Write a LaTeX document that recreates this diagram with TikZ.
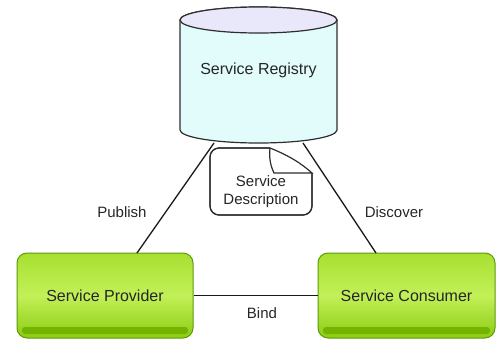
\documentclass[tikz,border=0pt]{standalone}
\usepackage{fontspec}
\setmainfont{Liberation Sans}
\usetikzlibrary{calc}
\definecolor{cylbody}{HTML}{E2FBFB}
\definecolor{cyltop}{HTML}{E8E8FA}
\definecolor{outl}{HTML}{2E2E2E}
\definecolor{gtop}{HTML}{A8E030}
\definecolor{gmid}{HTML}{C2F058}
\definecolor{gbot}{HTML}{8CCC12}
\definecolor{gborder}{HTML}{5E9A0A}
\definecolor{gband}{HTML}{74B400}
\tikzset{
  boxtext/.style={font=\fontsize{16}{19}\selectfont, text=black!85},
  lbl/.style={font=\fontsize{15}{18}\selectfont, text=black!85},
  gbox/.style={rounded corners=10pt, draw=gborder, line width=1pt,
    top color=gtop, bottom color=gbot, middle color=gmid,
    minimum height=85pt, inner sep=0pt},
  conn/.style={line width=1.3pt, draw=black!90},
  outline/.style={line width=1.2pt, draw=outl}
}
\begin{document}
\begin{tikzpicture}[x=1pt,y=1pt]
\useasboundingbox (0,0) rectangle (496,-341);
% registry cylinder
\path[outline, fill=cylbody] (180,-20) -- (180,-130)
  arc[start angle=180, end angle=360, x radius=78.5pt, y radius=13pt]
  -- (337,-20)
  arc[start angle=0, end angle=180, x radius=78.5pt, y radius=13pt] -- cycle;
\path[outline, fill=cyltop] (258.5,-20) ellipse[x radius=78.5pt, y radius=13pt];
\node[boxtext] (reg) at (258.5,-70) {Service Registry};
\coordinate (regL) at (214,-143);
\coordinate (regR) at (303,-143);
% provider and consumer
\node[gbox, minimum width=176pt] (prov) at (105,-295.5) {};
\node[gbox, minimum width=177pt] (cons) at (406.5,-295.5) {};
\fill[gband, rounded corners=3pt] (22,-327) rectangle (188,-334);
\fill[gband, rounded corners=3pt] (323,-327) rectangle (490,-334);
\node[boxtext] at (prov.center) {Service Provider};
\node[boxtext] at (cons.center) {Service Consumer};
\coordinate (provT) at (137,-253);
\coordinate (consT) at (376,-253);
% connectors
\draw[conn] (regL) -- (provT);
\draw[conn] (regR) -- (consT);
\draw[conn] (prov.east) -- (cons.west);
% document
\path[outline, fill=white, rounded corners=9pt] (270,-148) -- (210,-148) -- (210,-215) -- (312,-215) -- (312,-173);
\draw[outline, fill=white] (270,-148) .. controls (290,-156) and (302,-164) .. (312,-173) -- (274,-173) .. controls (270,-165) and (269,-156) .. (270,-148);
\path[outline, rounded corners=9pt] (270,-148) -- (210,-148) -- (210,-215) -- (312,-215) -- (312,-173);
\node[lbl, align=center, inner sep=0pt] (desc) at (261,-192) {Service\\Description};
% labels
\node[lbl] (pub) at (122,-212) {Publish};
\node[lbl] (disc) at (394,-212) {Discover};
\node[lbl] (bind) at (262,-313) {Bind};
\end{tikzpicture}
\end{document}
